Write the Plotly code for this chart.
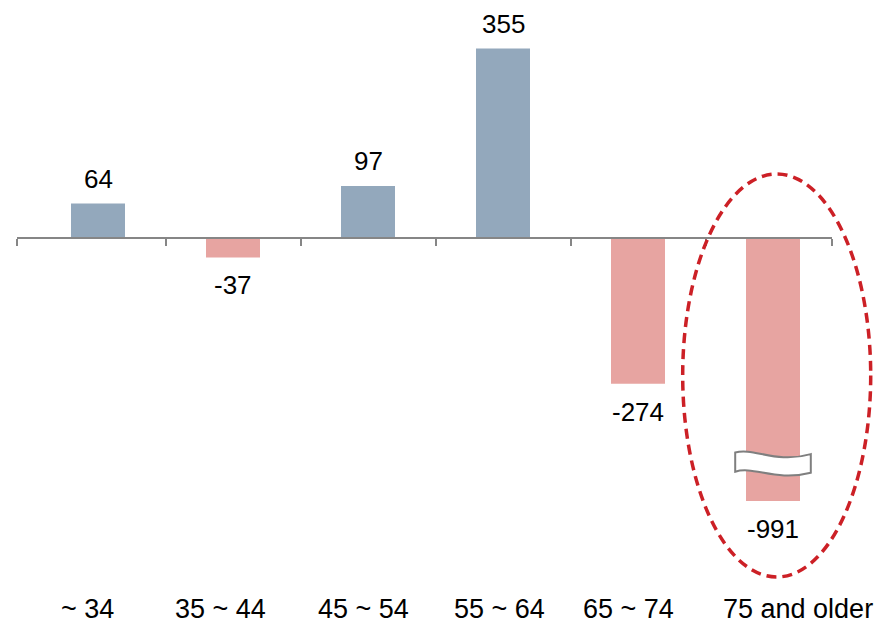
import plotly.graph_objects as go

# Change by age group
categories = ["~ 34", "35 ~ 44", "45 ~ 54", "55 ~ 64", "65 ~ 74", "75 and older"]
values = [64, -37, 97, 355, -274, -991]

POS_COLOR = "#93A8BC"
NEG_COLOR = "#E7A4A1"
FONT = "Liberation Sans, Arial, sans-serif"

# Visible value window; the oldest group runs past the bottom (broken bar)
Y_MIN, Y_MAX = -494, 446
X_MIN, X_MAX = -0.6, 5.437

# Horizontal nudges (px) for the bottom category labels
LABEL_SHIFTS = [-11, -13, -5, -4, -10, 25]

xs = list(range(len(categories)))
colors = [POS_COLOR if v >= 0 else NEG_COLOR for v in values]

fig = go.Figure(
    go.Bar(
        x=xs,
        y=values,
        width=0.4,
        marker=dict(color=colors, line=dict(width=0)),
        hoverinfo="skip",
    )
)

annotations = []
# Value labels above/below each bar end (clamped to the visible window)
for x, v in zip(xs, values):
    y_end = max(min(v, Y_MAX), Y_MIN)
    annotations.append(
        dict(
            x=x, y=y_end, xref="x", yref="y",
            text=str(v), showarrow=False,
            yanchor="middle",
            yshift=25 if v >= 0 else -28,
            font=dict(family=FONT, size=26, color="#000000"),
        )
    )

# Category labels along the bottom
for x, c, dx in zip(xs, categories, LABEL_SHIFTS):
    annotations.append(
        dict(
            x=x, y=-0.2156, xref="x", yref="paper",
            text=c, showarrow=False, yanchor="middle",
            xshift=dx,
            font=dict(family=FONT, size=27, color="#000000"),
        )
    )

shapes = [
    # Break marker across the truncated bar
    dict(
        type="path", xref="x", yref="y",
        path=("M 4.72,-403 C 4.86,-393 5.02,-425 5.28,-406 "
              "L 5.28,-441 C 5.02,-458 4.86,-428 4.72,-439 Z"),
        fillcolor="#FFFFFF",
        line=dict(color="#7F7F7F", width=2),
        layer="above",
    ),
    # Dashed highlight around the oldest group
    dict(
        type="circle", xref="paper", yref="paper",
        x0=0.8168, x1=1.0475, y0=-0.1517, y1=0.6527,
        line=dict(color="#CC2026", width=3.5, dash="10px,6px"),
        fillcolor="rgba(0,0,0,0)",
        layer="above",
    ),
]

zero_pos = (0 - Y_MIN) / (Y_MAX - Y_MIN)

fig.update_layout(
    width=876,
    height=623,
    margin=dict(l=17, r=44, t=0, b=122),
    paper_bgcolor="#FFFFFF",
    plot_bgcolor="#FFFFFF",
    showlegend=False,
    annotations=annotations,
    shapes=shapes,
    xaxis=dict(
        range=[X_MIN, X_MAX],
        anchor="free",
        position=zero_pos,
        showline=True,
        linecolor="#868686",
        linewidth=2,
        ticks="outside",
        ticklen=7,
        tickwidth=2,
        tickcolor="#868686",
        tickmode="array",
        tickvals=[X_MIN, 0.5, 1.5, 2.5, 3.5, 4.5, X_MAX],
        showticklabels=False,
        showgrid=False,
        zeroline=False,
        fixedrange=True,
    ),
    yaxis=dict(
        range=[Y_MIN, Y_MAX],
        visible=False,
        showgrid=False,
        zeroline=False,
        fixedrange=True,
    ),
)

fig.write_html("out.html")
